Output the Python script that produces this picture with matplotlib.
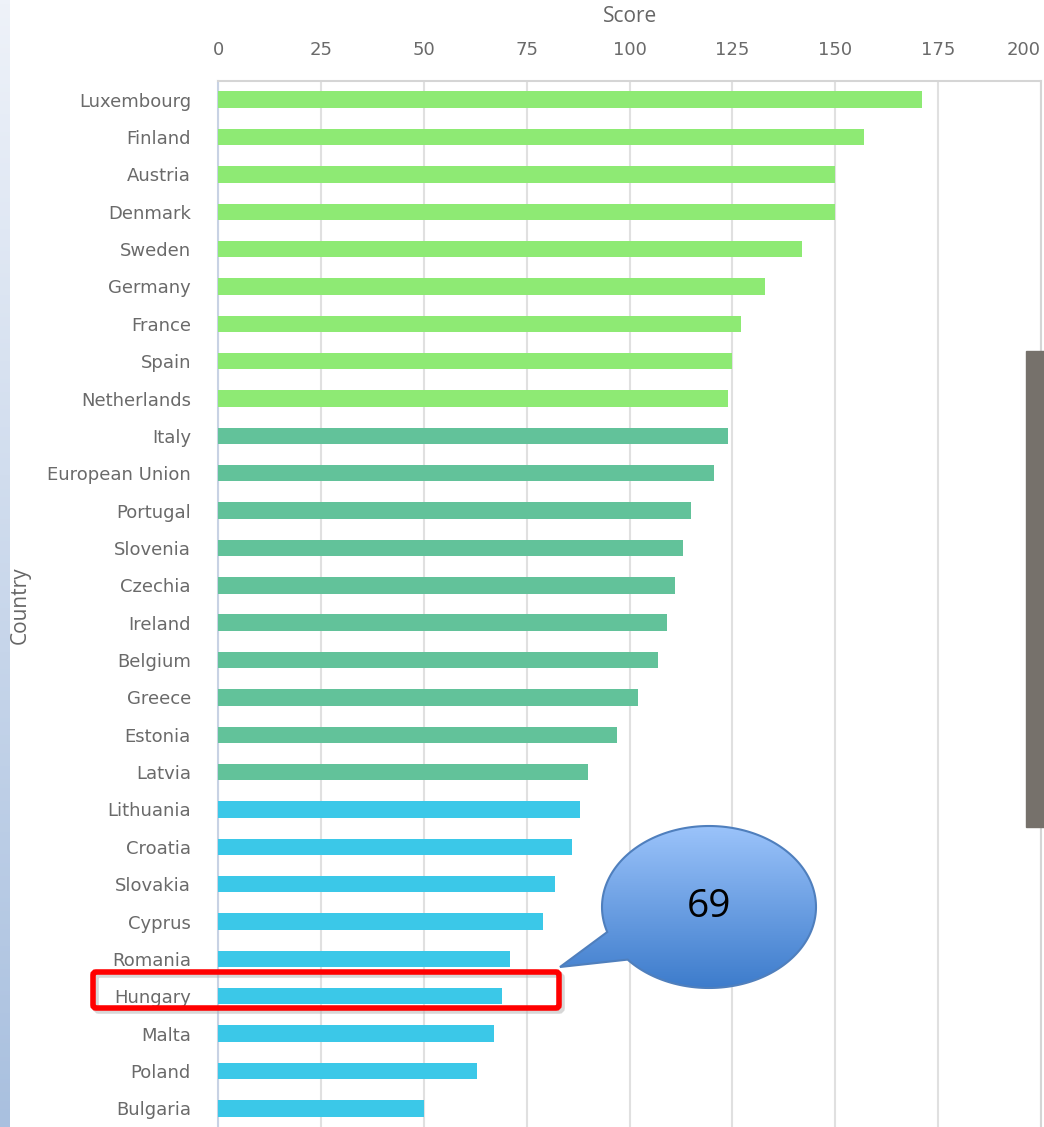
import numpy as np
import matplotlib
matplotlib.use('Agg')
import matplotlib.pyplot as plt
from matplotlib.patches import Polygon, FancyBboxPatch, Rectangle
from matplotlib.colors import LinearSegmentedColormap

countries = ['Luxembourg', 'Finland', 'Austria', 'Denmark', 'Sweden', 'Germany', 'France',
             'Spain', 'Netherlands', 'Italy', 'European Union', 'Portugal', 'Slovenia',
             'Czechia', 'Ireland', 'Belgium', 'Greece', 'Estonia', 'Latvia', 'Lithuania',
             'Croatia', 'Slovakia', 'Cyprus', 'Romania', 'Hungary', 'Malta', 'Poland', 'Bulgaria']
scores = [171, 157, 150, 150, 142, 133, 127, 125, 124, 124, 120.5, 115, 113,
          111, 109, 107, 102, 97, 90, 88, 86, 82, 79, 71, 69, 67, 63, 50]
tiers = ['high'] * 9 + ['mid'] * 10 + ['low'] * 9
highlight = 'Hungary'

tier_colors = {'high': '#8EEA74', 'mid': '#62C29A', 'low': '#3BC8E8'}
W, H = 1044, 1127

fig = plt.figure(figsize=(W / 100, H / 100), dpi=100)
ax = fig.add_axes([218 / W, 0, 823 / W, 1046 / H])

y = np.arange(len(countries))
ax.barh(y, scores, height=0.44, color=[tier_colors[t] for t in tiers], zorder=3)
ax.set_ylim(len(countries) - 0.5, -0.5)
ax.set_xlim(0, 200)
ax.set_xticks(np.arange(0, 201, 25))
ax.set_yticks(y)
ax.set_yticklabels(countries)
ax.xaxis.tick_top()
ax.tick_params(axis='x', length=0, pad=15.5, labelsize=13, labelcolor='#6A6A6A')
ax.tick_params(axis='y', length=0, pad=19.5, labelsize=13, labelcolor='#6A6A6A')
ax.get_xticklabels()[-1].set_horizontalalignment('right')
ax.grid(axis='x', color='#E0E0E0', lw=1.5, zorder=0)
for s in ['top', 'right']:
    ax.spines[s].set_color('#D5D5D5')
    ax.spines[s].set_linewidth(1.5)
ax.spines['left'].set_color('#C8D2E4')
ax.spines['left'].set_linewidth(1.5)
ax.spines['bottom'].set_visible(False)

# overlay in pixel coordinates for the decorations
ov = fig.add_axes([0, 0, 1, 1], zorder=5)
ov.set_xlim(0, W)
ov.set_ylim(H, 0)
ov.axis('off')
ov.patch.set_alpha(0)

fig.text(630 / W, 1 - 17 / H, 'Score', ha='center', va='center', fontsize=15,
         color='#666666', family='Open Sans')
fig.text(20 / W, 1 - 605 / H, 'Country', ha='center', va='center', rotation=90,
         fontsize=15, color='#666666', family='Open Sans')

# left gradient strip
strip = LinearSegmentedColormap.from_list('strip', ['#EEF2F9', '#A9C0DF'])
ov.imshow(np.linspace(0, 1, 256).reshape(-1, 1), cmap=strip, aspect='auto',
          extent=(0, 10, H, 0), origin='upper', zorder=1)

# grey bar at the right
ov.add_patch(Rectangle((1026, 351), 18, 476, color='#76716B', zorder=2))

# red highlight box
ov.add_patch(FancyBboxPatch((96, 975), 466, 36, boxstyle='round,pad=0,rounding_size=3',
                            fc='none', ec='#B0B0B0', lw=4, alpha=0.5, zorder=3))
ov.add_patch(FancyBboxPatch((93, 972), 466, 36, boxstyle='round,pad=0,rounding_size=3',
                            fc='none', ec='#FF0000', lw=4, zorder=4))

# callout bubble
cx, cy, a, b = 709, 907, 107, 81
t = np.radians(np.linspace(162, 360 + 139.5, 200))
pts = np.column_stack([cx + a * np.cos(t), cy + b * np.sin(t)])
pts = np.vstack([pts, [560, 967]])
bubble = Polygon(pts, closed=True, fc='none', ec='#4F7FBD', lw=1.5, zorder=7)
ov.add_patch(bubble)
grad = LinearSegmentedColormap.from_list('bubble', ['#9CC4FB', '#3C7BCB'])
im = ov.imshow(np.linspace(0, 1, 256).reshape(-1, 1), cmap=grad, aspect='auto',
               extent=(555, 820, 990, 824), origin='upper', zorder=6)
im.set_clip_path(bubble)
ov.set_xlim(0, W)
ov.set_ylim(H, 0)
ov.text(cx, cy, f'{scores[countries.index(highlight)]:g}', ha='center', va='center',
        fontsize=28, color='black', family='Open Sans', zorder=8)

fig.savefig('out.png', dpi=100)
